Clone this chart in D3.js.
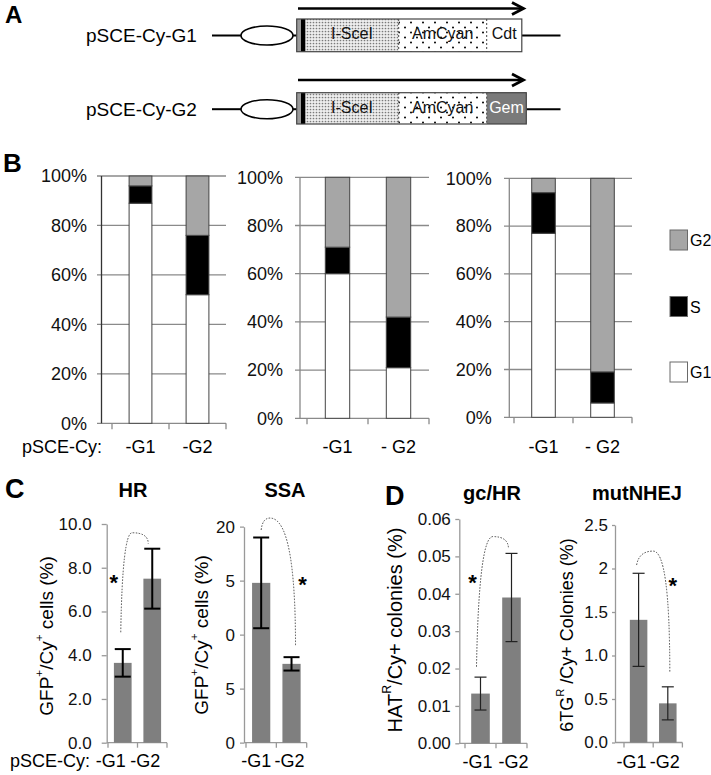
<!DOCTYPE html>
<html><head><meta charset="utf-8">
<script src="https://cdn.jsdelivr.net/npm/d3@7"></script>
<style>
html,body{margin:0;padding:0;background:#fff;}
svg{display:block;font-family:"Liberation Sans",Arial,Helvetica,sans-serif;}
</style></head><body>
<svg id="fig" width="711" height="775"></svg>
<script>
// ---------------- DATA ----------------
const constructNames = ["pSCE-Cy-G1", "pSCE-Cy-G2"];
const constructParts = ["I-SceI", "AmCyan"];
const constructTags = ["Cdt", "Gem"];

const phaseNames = ["G1", "S", "G2"];
const legendOrder = ["G2", "S", "G1"];
const cycleCategories = [["-G1", "-G2"], ["-G1", "- G2"], ["-G1", "- G2"]];
const g1Percent = [[89, 52], [60, 21], [77, 6]];
const sPercent  = [[7, 24], [11, 21], [17, 13]];
const g2Percent = [[4, 24], [29, 58], [6, 81]];
const percentTicks = [0, 20, 40, 60, 80, 100];

const repairCategories = ["-G1", "-G2"];
const hrMean = [3.65, 7.5],    hrErr = [0.63, 1.37];
const ssaMean = [14.8, 7.3],   ssaErr = [4.2, 0.62];
const gcMean = [0.0133, 0.039], gcErr = [0.0044, 0.0118];
const mutMean = [1.41, 0.45],  mutErr = [0.535, 0.19];
const hrTicks = [0, 2, 4, 6, 8, 10];
const hrTickLabels = ["0.0", "2.0", "4.0", "6.0", "8.0", "10.0"];
const ssaTicks = [0, 5, 10, 15, 20];
const ssaTickLabels = ["0", "5", "0", "5", "20"];
const gcTicks = [0, 0.01, 0.02, 0.03, 0.04, 0.05, 0.06];
const gcTickLabels = ["0.00", "0.01", "0.02", "0.03", "0.04", "0.05", "0.06"];
const mutTicks = [0, 0.5, 1, 1.5, 2, 2.5];
const mutTickLabels = ["0.0", "0.5", "1.0", "1.5", "2", "2.5"];
// significance arcs: [start value, peak value, end value]
const hrArc = [5.05, 9.6, 9.1];
const ssaArc = [19.7, 20.8, 8.9];
const gcArc = [0.0205, 0.0553, 0.052];
const mutArc = [2.04, 2.2, 0.8];
const starValue = [7.5, 15, 0.044, 1.85];

// ---------------- DRAW ----------------
const FONT = '"Liberation Sans", Arial, Helvetica, sans-serif';
const svg = d3.select("#fig");
const defs = svg.append("defs");

const p1 = defs.append("pattern").attr("id", "fineDots").attr("patternUnits", "userSpaceOnUse")
  .attr("width", 3).attr("height", 3);
p1.append("rect").attr("width", 3).attr("height", 3).attr("fill", "#eeeeee");
p1.append("circle").attr("cx", 1.5).attr("cy", 1.5).attr("r", 0.85).attr("fill", "#7a7a7a");
const p2 = defs.append("pattern").attr("id", "sparseDots").attr("patternUnits", "userSpaceOnUse")
  .attr("width", 12).attr("height", 10);
p2.append("rect").attr("width", 12).attr("height", 10).attr("fill", "#fff");
p2.append("circle").attr("cx", 3).attr("cy", 2.5).attr("r", 1).attr("fill", "#000");
p2.append("circle").attr("cx", 9).attr("cy", 7.5).attr("r", 1).attr("fill", "#000");

function panelLabel(t, x, y, size) {
  svg.append("text").attr("x", x).attr("y", y).attr("font-size", size).attr("font-weight", "bold")
    .attr("font-family", FONT).text(t);
}

// ----- Panel A -----
panelLabel("A", 5, 23, 24);
const rowsA = [
  { arrowY: 8.5, midY: 35.5, top: 19, bot: 51.7, end: 521.8 },
  { arrowY: 80, midY: 109.2, top: 92.7, bot: 124, end: 526.3 }
];
rowsA.forEach((r, i) => {
  const g = svg.append("g");
  g.append("text").attr("x", 86).attr("y", r.midY + 6.8).attr("font-size", 19).text(constructNames[i]);
  g.append("line").attr("x1", 212).attr("x2", 241).attr("y1", r.midY).attr("y2", r.midY).attr("stroke", "#000").attr("stroke-width", 2);
  g.append("ellipse").attr("cx", 267).attr("cy", r.midY).attr("rx", 26).attr("ry", 9.5)
    .attr("fill", "#fff").attr("stroke", "#000").attr("stroke-width", 1.6);
  g.append("line").attr("x1", 293).attr("x2", 297).attr("y1", r.midY).attr("y2", r.midY).attr("stroke", "#000").attr("stroke-width", 2);
  g.append("line").attr("x1", r.end).attr("x2", 560.5).attr("y1", r.midY).attr("y2", r.midY).attr("stroke", "#000").attr("stroke-width", 2);
  const h = r.bot - r.top;
  const segs = [
    { x0: 305.3, x1: 398.7, fill: "url(#fineDots)", label: constructParts[0], color: "#111" },
    { x0: 398.7, x1: 486.7, fill: "url(#sparseDots)", label: constructParts[1], color: "#111" },
    { x0: 486.7, x1: r.end, fill: i === 0 ? "#fff" : "#7a7a7a", label: constructTags[i], color: i === 0 ? "#111" : "#fff" }
  ];
  segs.forEach(s => {
    g.append("rect").attr("x", s.x0).attr("y", r.top).attr("width", s.x1 - s.x0).attr("height", h).attr("fill", s.fill);
    g.append("text").attr("x", (s.x0 + s.x1) / 2).attr("y", r.midY + 3.5).attr("text-anchor", "middle")
      .attr("font-size", 16).attr("fill", s.color).text(s.label);
  });
  g.append("rect").attr("x", 296.7).attr("y", r.top).attr("width", 4.3).attr("height", h).attr("fill", "#9a9a9a");
  g.append("rect").attr("x", 301).attr("y", r.top).attr("width", 4.3).attr("height", h).attr("fill", "#000");
  g.append("rect").attr("x", 296.7).attr("y", r.top).attr("width", r.end - 296.7).attr("height", h)
    .attr("fill", "none").attr("stroke", "#444").attr("stroke-width", 1.2);
  [398.7, 486.7].forEach(xx => g.append("line").attr("x1", xx).attr("x2", xx).attr("y1", r.top).attr("y2", r.bot)
    .attr("stroke", "#444").attr("stroke-width", 1).attr("stroke-dasharray", "2,2"));
  g.append("line").attr("x1", 298).attr("x2", 523).attr("y1", r.arrowY).attr("y2", r.arrowY).attr("stroke", "#000").attr("stroke-width", 2.6);
  g.append("polyline").attr("points", `512,${r.arrowY - 6} 523.5,${r.arrowY} 512,${r.arrowY + 6}`)
    .attr("fill", "none").attr("stroke", "#000").attr("stroke-width", 2.8);
});

// ----- Panel B -----
panelLabel("B", 3, 172, 26);
const phaseColor = { G1: "#ffffff", S: "#000000", G2: "#a6a6a6" };
const layoutB = [
  { ax: 101.5, gx: 97, x0: 112, x1: 226, yb: 423.3, yt: 176, pad: 14.5, axisColor: "#333" },
  { ax: 300, gx: 295, x0: 307, x1: 429, yb: 418.3, yt: 177.3, pad: 17, axisColor: "#888" },
  { ax: 509.3, gx: 504, x0: 514, x1: 632, yb: 417.3, yt: 178.3, pad: 17.6, axisColor: "#888" }
];
layoutB.forEach((L, i) => {
  const g = svg.append("g");
  const cats = cycleCategories[i];
  const x = d3.scaleBand().domain(cats).range([L.x0, L.x1]).paddingInner(0.6).paddingOuter(0.3);
  const y = d3.scaleLinear().domain([0, 100]).range([L.yb, L.yt]);
  g.selectAll("line.grid").data(percentTicks).join("line").attr("class", "grid")
    .attr("x1", L.gx).attr("x2", L.x1).attr("y1", d => y(d)).attr("y2", d => y(d))
    .attr("stroke", "#8a8a8a").attr("stroke-width", 1.3);
  const ya = d3.axisLeft(y).tickValues(percentTicks).tickFormat(d => d + "%").tickSize(0).tickPadding(L.pad);
  const yg = g.append("g").attr("transform", `translate(${L.ax},0)`).call(ya);
  yg.select(".domain").remove();
  yg.attr("font-size", 18).attr("font-family", FONT);
  yg.selectAll("text").attr("fill", "#111");
  g.append("line").attr("x1", L.ax).attr("x2", L.ax).attr("y1", L.yb).attr("y2", L.yt)
    .attr("stroke", L.axisColor).attr("stroke-width", 1.3);
  const step = x.step();
  const bounds = [0, 1, 2].map(k => L.x0 + k * step);
  g.selectAll("line.xt").data(bounds).join("line").attr("class", "xt")
    .attr("x1", d => d).attr("x2", d => d).attr("y1", L.yb).attr("y2", L.yb + 6)
    .attr("stroke", "#8a8a8a").attr("stroke-width", 1.3);
  const rows = cats.map((c, j) => ({ cat: c, G1: g1Percent[i][j], S: sPercent[i][j], G2: g2Percent[i][j] }));
  const series = d3.stack().keys(phaseNames)(rows);
  series.forEach(s => {
    g.selectAll(null).data(s).join("rect")
      .attr("x", d => x(d.data.cat)).attr("width", x.bandwidth())
      .attr("y", d => y(d[1])).attr("height", d => y(d[0]) - y(d[1]))
      .attr("fill", phaseColor[s.key]).attr("stroke", "#444").attr("stroke-width", 1);
  });
  g.selectAll("text.cat").data(cats).join("text").attr("class", "cat")
    .attr("x", d => x(d) + x.bandwidth() / 2).attr("y", 453).attr("text-anchor", "middle")
    .attr("font-size", 18).text(d => d);
});
svg.append("text").attr("x", 22).attr("y", 453).attr("font-size", 18).text("pSCE-Cy:");
// legend
const legY = { G2: 230, S: 296.5, G1: 362 };
legendOrder.forEach(k => {
  svg.append("rect").attr("x", 670).attr("y", legY[k]).attr("width", 17.5).attr("height", 20)
    .attr("fill", phaseColor[k]).attr("stroke", "#6a6a6a").attr("stroke-width", 1);
  svg.append("text").attr("x", 690).attr("y", legY[k] + 16).attr("font-size", 16).text(k);
});

// ----- Panels C & D -----
panelLabel("C", 5, 498, 27);
panelLabel("D", 385, 505, 27);

function drawRepair(L, means, errs, ticks, tickLabels, arc, star) {
  const g = svg.append("g");
  const x = d3.scaleBand().domain(repairCategories).range([L.x0, L.x1]).paddingInner(0.4).paddingOuter(0.2);
  const y = d3.scaleLinear().domain([0, ticks[ticks.length - 1]]).range([L.yb, L.yt]);
  const cx = i => x(repairCategories[i]) + x.bandwidth() / 2;
  const ya = d3.axisLeft(y).tickValues(ticks).tickFormat(d => tickLabels[ticks.indexOf(d)])
    .tickSizeInner(L.tick).tickSizeOuter(0).tickPadding(L.pad);
  const yg = g.append("g").attr("transform", `translate(${L.ax},0)`).call(ya);
  yg.attr("font-size", L.fs).attr("font-family", FONT);
  yg.select(".domain").attr("stroke", "#999").attr("stroke-width", 1.3);
  yg.selectAll(".tick line").attr("stroke", "#999").attr("stroke-width", 1.3);
  yg.selectAll("text").attr("fill", "#111");
  if (L.clip) {
    const id = "clipAxis" + Math.round(L.ax);
    defs.append("clipPath").attr("id", id).attr("clipPathUnits", "userSpaceOnUse")
      .append("rect").attr("x", -60).attr("y", L.yt - 20)
      .attr("width", 64).attr("height", L.yb - L.yt + 26);
    yg.attr("clip-path", `url(#${id})`);
  }
  g.append("line").attr("x1", L.ax).attr("x2", L.x1).attr("y1", L.yb).attr("y2", L.yb).attr("stroke", "#999").attr("stroke-width", 1.3);
  const step = x.step();
  g.selectAll("line.xt").data([0, 1, 2].map(k => L.x0 + k * step)).join("line").attr("class", "xt")
    .attr("x1", d => d).attr("x2", d => d).attr("y1", L.yb).attr("y2", L.yb + 5)
    .attr("stroke", "#999").attr("stroke-width", 1.3);
  g.selectAll("rect.bar").data(means).join("rect").attr("class", "bar")
    .attr("x", (d, i) => x(repairCategories[i])).attr("width", x.bandwidth())
    .attr("y", d => y(d)).attr("height", d => L.yb - y(d)).attr("fill", "#7f7f7f");
  means.forEach((m, i) => {
    const c = cx(i);
    g.append("line").attr("x1", c).attr("x2", c).attr("y1", y(m - errs[i])).attr("y2", y(m + errs[i]))
      .attr("stroke", L.ec).attr("stroke-width", L.ew);
    [m - errs[i], m + errs[i]].forEach(v => g.append("line").attr("x1", c - L.cap).attr("x2", c + L.cap)
      .attr("y1", y(v)).attr("y2", y(v)).attr("stroke", L.ec).attr("stroke-width", L.ew));
  });
  const c0 = cx(0), c1 = cx(1);
  const sx = c0 + L.arcS, sy = y(arc[0]);
  const px = c0 + (c1 - c0) * L.arcT, py = y(arc[1]);
  const ex = c1 + L.arcE, ey = y(arc[2]);
  g.append("path")
    .attr("d", `M${sx},${sy} Q${sx + (px - sx) * 0.15},${py} ${px},${py} Q${ex},${py} ${ex},${ey}`)
    .attr("fill", "none").attr("stroke", "#444").attr("stroke-width", 1).attr("stroke-dasharray", "1.5,1.5");
  g.append("text").attr("x", (L.starIdx === 0 ? c0 : c1) + L.starDx).attr("y", y(star) + 11)
    .attr("text-anchor", "middle").attr("font-size", 22).attr("font-weight", "bold").text("*");
  g.selectAll("text.cat").data(repairCategories).join("text").attr("class", "cat")
    .attr("x", (d, i) => cx(i) + L.labDx[i]).attr("y", L.labY).attr("text-anchor", "middle")
    .attr("font-size", 18).text(d => d);
  g.append("text").attr("x", L.titleX).attr("y", L.titleY).attr("text-anchor", "middle")
    .attr("font-size", 20).attr("font-weight", "bold").text(L.title);
  const yl = g.append("text").attr("transform", `translate(${L.yLabX},${L.yLabY}) rotate(-90)`)
    .attr("text-anchor", "middle").attr("dominant-baseline", "central").attr("font-size", L.yLabFs);
  let raised = false;
  L.yLab.forEach(part => {
    const ts = yl.append("tspan").text(part.t);
    if (part.sup) {
      ts.attr("dy", -L.yLabFs * 0.4).attr("font-size", L.yLabFs * 0.62);
      raised = true;
    } else if (raised) {
      ts.attr("dy", L.yLabFs * 0.4);
      raised = false;
    }
  });
}

drawRepair({ ax: 106.7, x0: 108, x1: 167, yb: 742.7, yt: 524, tick: 5, pad: 10, fs: 17,
  ec: "#000", ew: 2, cap: 8, arcS: -2, arcT: 0.32, arcE: -4, starIdx: 0, starDx: -9,
  labDx: [-12, -7], labY: 767, title: "HR", titleX: 133, titleY: 497,
  yLabX: 46, yLabY: 636, yLabFs: 19,
  yLab: [{ t: "GFP" }, { t: "+", sup: true }, { t: "/Cy" }, { t: "+", sup: true }, { t: " cells (%)" }] },
  hrMean, hrErr, hrTicks, hrTickLabels, hrArc, starValue[0]);

drawRepair({ ax: 244, x0: 246, x1: 306.7, yb: 742.7, yt: 526.7, tick: 4, pad: 5, fs: 17, clip: true,
  ec: "#000", ew: 2, cap: 8, arcS: 0, arcT: 0.29, arcE: 4, starIdx: 1, starDx: 11,
  labDx: [-5, -2], labY: 767, title: "SSA", titleX: 285, titleY: 497,
  yLabX: 201, yLabY: 635, yLabFs: 19,
  yLab: [{ t: "GFP" }, { t: "+", sup: true }, { t: "/Cy" }, { t: "+", sup: true }, { t: " cells (%)" }] },
  ssaMean, ssaErr, ssaTicks, ssaTickLabels, ssaArc, starValue[1]);

drawRepair({ ax: 459.3, x0: 465, x1: 527, yb: 743.3, yt: 519, tick: 4, pad: 4.5, fs: 17,
  ec: "#222", ew: 1.2, cap: 6, arcS: -4, arcT: 0.4, arcE: -3, starIdx: 0, starDx: -8,
  labDx: [-3, 2], labY: 768, title: "gc/HR", titleX: 492, titleY: 500,
  yLabX: 395, yLabY: 630, yLabFs: 20,
  yLab: [{ t: "HAT" }, { t: "R", sup: true }, { t: "/Cy+ colonies (%)" }] },
  gcMean, gcErr, gcTicks, gcTickLabels, gcArc, starValue[2]);

drawRepair({ ax: 615, x0: 624, x1: 682.4, yb: 742.5, yt: 525, tick: 3, pad: 4, fs: 17,
  ec: "#222", ew: 1.2, cap: 6, arcS: -2, arcT: 0.5, arcE: 2, starIdx: 1, starDx: 5,
  labDx: [-7, -3], labY: 768, title: "mutNHEJ", titleX: 637, titleY: 500,
  yLabX: 567, yLabY: 635, yLabFs: 18,
  yLab: [{ t: "6TG" }, { t: "R", sup: true }, { t: " /Cy+ Colonies (%)" }] },
  mutMean, mutErr, mutTicks, mutTickLabels, mutArc, starValue[3]);

svg.append("text").attr("x", 10).attr("y", 767).attr("font-size", 18).text("pSCE-Cy:");
</script>
</body></html>
